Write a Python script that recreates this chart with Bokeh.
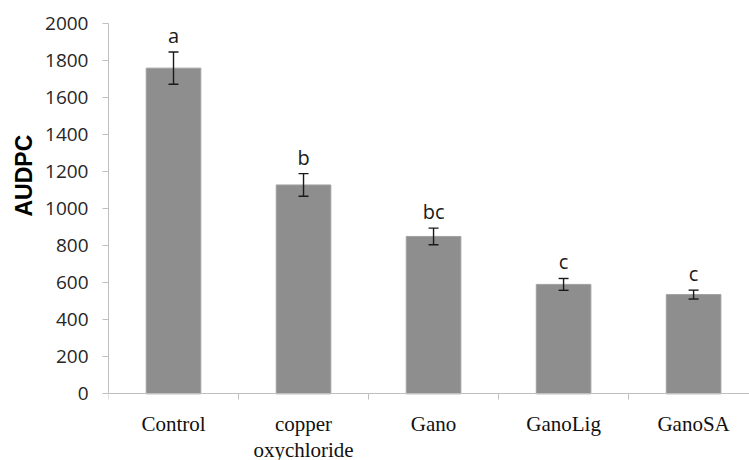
import numpy as np
from bokeh.plotting import figure
from bokeh.models import ColumnDataSource, FixedTicker, Range1d, Title, Whisker
from bokeh.core.properties import value
from bokeh.embed import file_html
from bokeh.resources import INLINE

categories = ["Control", "copper\noxychloride", "Gano", "GanoLig", "GanoSA"]
audpc = [1759, 1128, 850, 591, 536]
errors = [87, 61, 45, 32, 24]
letters = ["a", "b", "bc", "c", "c"]
y_ticks = [0, 200, 400, 600, 800, 1000, 1200, 1400, 1600, 1800, 2000]

n = len(categories)
centers = list(np.arange(n) + 0.5)
bounds = list(np.arange(n + 1).astype(float))

src = ColumnDataSource(dict(
    x=centers,
    top=audpc,
    upper=[v + e for v, e in zip(audpc, errors)],
    lower=[v - e for v, e in zip(audpc, errors)],
    letter=letters,
))

p = figure(width=749, height=460, output_backend="svg", toolbar_location=None,
           x_range=Range1d(0, 4.93), y_range=Range1d(-360, 2000),
           min_border_left=108, min_border_right=0, min_border_top=23, min_border_bottom=0)
p.outline_line_color = None
p.grid.grid_line_color = None
p.background_fill_color = "white"

p.vbar(x="x", top="top", width=0.42, bottom=0, source=src,
       fill_color="#8e8e8e", line_color="#a0a0a0", line_width=1)

w = Whisker(base="x", upper="upper", lower="lower", source=src,
            line_color="#1a1a1a", line_width=1.4, level="overlay")
for h in (w.upper_head, w.lower_head):
    h.size = 10
    h.line_color = "#1a1a1a"
    h.line_width = 1.4
p.add_layout(w)

p.text(x="x", y="upper", text="letter", source=src, text_align="center",
       text_baseline="bottom", y_offset=-3, text_font=value("Open Sans"),
       text_font_size="20px", text_color="#1a1a1a")

# y axis
ya = p.yaxis[0]
ya.ticker = FixedTicker(ticks=y_ticks)
ya.bounds = (0, 2000)
ya.axis_line_color = "#bfbfbf"
ya.major_tick_line_color = "#bfbfbf"
ya.major_tick_out = 6
ya.major_tick_in = 0
ya.minor_tick_line_color = None
ya.major_label_standoff = 14
ya.major_label_text_font = "Open Sans"
ya.major_label_text_font_size = "19px"
ya.major_label_text_color = "#262626"

# x axis, drawn at y = 0
xa = p.xaxis[0]
xa.fixed_location = 0
xa.ticker = FixedTicker(ticks=centers, minor_ticks=bounds)
xa.major_label_overrides = {c: lab for c, lab in zip(centers, categories)}
xa.axis_line_color = "#bfbfbf"
xa.major_tick_line_color = None
xa.major_tick_out = 0
xa.major_tick_in = 0
xa.minor_tick_line_color = "#bfbfbf"
xa.minor_tick_out = 6
xa.minor_tick_in = 0
xa.major_label_standoff = 12
xa.major_label_text_font = "Liberation Serif"
xa.major_label_text_font_size = "21px"
xa.major_label_text_line_height = 1.1
xa.major_label_text_color = "#111111"

p.add_layout(Title(text="AUDPC", align="left", offset=244, standoff=11,
                   text_font="Liberation Sans", text_font_style="bold",
                   text_font_size="23px", text_color="#000000"), "left")

open("out.html", "w").write(file_html(p, INLINE))
